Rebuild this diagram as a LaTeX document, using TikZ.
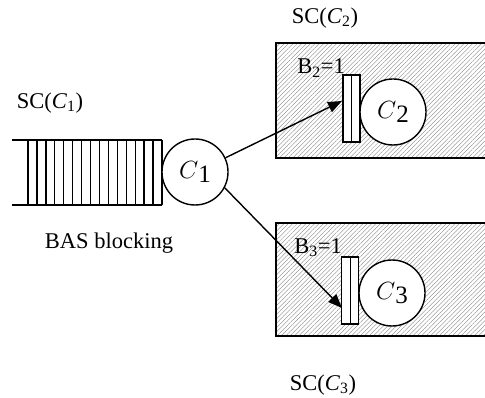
\documentclass[tikz,border=0pt]{standalone}
\usepackage{fontspec}
\setmainfont{Liberation Serif}
\usetikzlibrary{patterns.meta,arrows.meta}
\newcommand{\srvlabel}[1]{$C$\raisebox{-4pt}{\fontsize{25}{25}\selectfont$\mathrm{#1}$}}
\begin{document}
\begin{tikzpicture}[x=1pt,y=-1pt,
  lbl/.style={inner sep=0pt,font=\fontsize{22.5}{26}\selectfont},
  srv/.style={circle,draw,line width=1.4pt,fill=white,minimum size=66pt,inner sep=0pt,font=\fontsize{30}{32}\selectfont},
  buf/.style={rectangle,draw,line width=1.3pt,fill=white,minimum width=17pt,minimum height=67pt,inner sep=0pt},
  hatchbox/.style={draw,line width=1.4pt,pattern={Lines[angle=45,distance=3.1pt,line width=0.35pt]},pattern color=black!50},
  arr/.style={line width=1.4pt,-{Triangle[length=14pt,width=11pt]}},
  q/.style={line width=1.3pt}]
\useasboundingbox (0,0) rectangle (485,398);
% queue
\draw[q] (12,140) -- (162,140);
\draw[q] (12,205) -- (162,205);
\foreach \i in {0,...,15} \draw[q] ({28+\i*8.93},140) -- ({28+\i*8.93},205);
\node[srv] (c1) at (195,172) {\srvlabel{1}};
% boxes
\draw[hatchbox] (276,43) rectangle (492,158);
\draw[hatchbox] (276,223) rectangle (492,336);
% buffers and servers
\node[buf] (b2) at (351.5,108.5) {};
\draw[line width=1pt] (b2.north) -- (b2.south);
\node[srv] (c2) at (393,112) {\srvlabel{2}};
\node[buf] (b3) at (350,290.5) {};
\draw[line width=1pt] (b3.north) -- (b3.south);
\node[srv] (c3) at (392,293) {\srvlabel{3}};
% labels
\node[lbl] (sc1) at (50,103) {SC(\textit{C}\textsubscript{1})};
\node[lbl] (bas) at (109,243) {BAS blocking};
\node[lbl] (sc2) at (325,18) {SC(\textit{C}\textsubscript{2})};
\node[lbl] (sc3) at (323,385) {SC(\textit{C}\textsubscript{3})};
\node[lbl,anchor=east] (l2) at (345,68) {B\textsubscript{2}=1};
\node[lbl,anchor=east] (l3) at (342,248) {B\textsubscript{3}=1};
% arrows
\coordinate (t2) at (342,101);
\coordinate (t3) at (342,308);
\draw[arr] (c1.25) -- (t2);
\draw[arr] (c1.-28) -- (t3);
\end{tikzpicture}
\end{document}
